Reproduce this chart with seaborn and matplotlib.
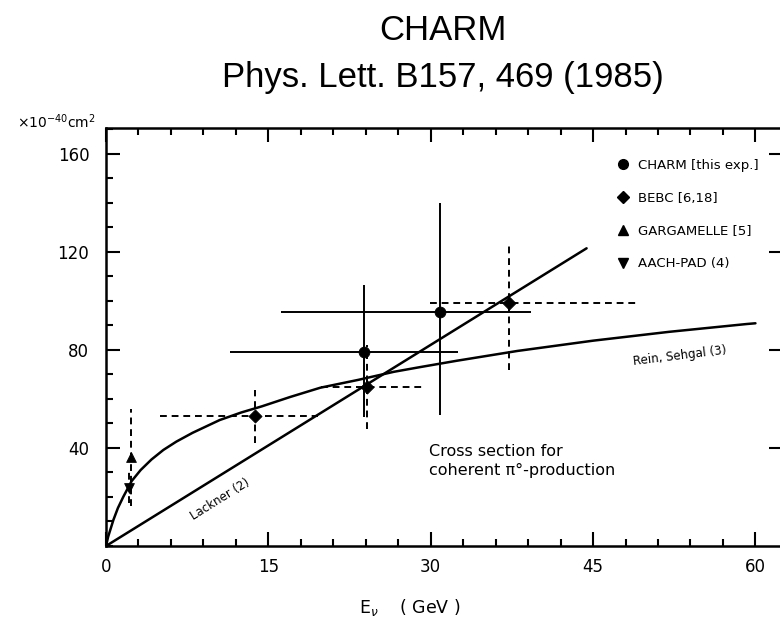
import numpy as np
import pandas as pd
import matplotlib
matplotlib.use("Agg")
import matplotlib.pyplot as plt
import seaborn as sns
from matplotlib.lines import Line2D
from matplotlib.ticker import MultipleLocator, FixedLocator

# ---------------- data ----------------
charm_E = [23.8, 30.9]
charm_sigma = [79.3, 95.6]
charm_E_lo = [11.5, 16.2]
charm_E_hi = [32.5, 39.3]
charm_sig_lo = [52.8, 53.5]
charm_sig_hi = [106.5, 140.1]

bebc_E = [13.8, 24.1, 37.2]
bebc_sigma = [53.1, 64.8, 99.1]
bebc_E_lo = [5.0, 19.9, 29.9]
bebc_E_hi = [19.6, 29.5, 49.0]
bebc_sig_lo = [41.9, 47.6, 72.0]
bebc_sig_hi = [63.7, 82.0, 124.2]

garg_E = [2.3]
garg_sigma = [36.4]
garg_sig_lo = [16.3]
garg_sig_hi = [55.8]

aach_E = [2.15]
aach_sigma = [23.5]
aach_sig_lo = [17.5]
aach_sig_hi = [30.0]

# Rein-Sehgal curve
rs_E = [0, 0.2, 0.68, 1.1, 1.6, 2.37, 3.2, 4.2, 5.3, 6.5, 8.0, 10.5, 12.5, 14.4,
        17.0, 19.8, 23.3, 26.6, 29.0, 32.4, 38.0, 45.0, 52.0, 59.2, 60.0]
rs_sigma = [0, 3.8, 10.6, 15.5, 20.1, 26.5, 31.0, 35.3, 39.2, 42.6, 46.2, 51.4, 54.5, 57.0,
            60.8, 64.6, 67.8, 71.1, 73.0, 75.6, 79.6, 83.8, 87.4, 90.6, 90.9]

# Lackner line
lk_E = [0, 44.4]
lk_sigma = [0, 121.5]

x_ticks = [0, 15, 30, 45, 60]
y_ticks = [40, 80, 120, 160]

legend_labels = ["CHARM [this exp.]", "BEBC [6,18]", "GARGAMELLE [5]", "AACH-PAD (4)"]

# ---------------- figure ----------------
sns.set_theme(style="white")
plt.rcParams["font.family"] = ["DejaVu Sans"]
plt.rcParams["mathtext.fontset"] = "dejavusans"
plt.rcParams["text.color"] = "black"
plt.rcParams["xtick.color"] = "black"
plt.rcParams["ytick.color"] = "black"
plt.rcParams["axes.labelcolor"] = "black"

W, H = 780, 625
fig = plt.figure(figsize=(W / 100, H / 100), dpi=100)
fig.patch.set_facecolor("white")
ax = fig.add_axes([106 / W, 1 - 546 / H, 676.5 / W, 418 / H])
ax.set_facecolor("white")
ax.set_xlim(0, 62.5)
ax.set_ylim(0, 170.6)

k = "black"

# theory curves
sns.lineplot(x=rs_E, y=rs_sigma, ax=ax, color=k, lw=1.8, sort=False, estimator=None)
sns.lineplot(x=lk_E, y=lk_sigma, ax=ax, color=k, lw=1.8, sort=False, estimator=None)

def ebar(E, s, Elo, Ehi, slo, shi, dashed):
    E = np.array(E); s = np.array(s)
    xerr = None
    if Elo is not None:
        xerr = [E - np.array(Elo), np.array(Ehi) - E]
    yerr = [s - np.array(slo), np.array(shi) - s]
    eb = ax.errorbar(E, s, xerr=xerr, yerr=yerr, fmt="none", ecolor=k,
                     elinewidth=1.4, capsize=0, zorder=3)
    if dashed:
        for lc in eb[2]:
            lc.set_linestyle((0, (3.5, 2.5)))

ebar(charm_E, charm_sigma, charm_E_lo, charm_E_hi, charm_sig_lo, charm_sig_hi, False)
ebar(bebc_E, bebc_sigma, bebc_E_lo, bebc_E_hi, bebc_sig_lo, bebc_sig_hi, True)
ebar(garg_E, garg_sigma, None, None, garg_sig_lo, garg_sig_hi, True)
ebar(aach_E, aach_sigma, None, None, aach_sig_lo, aach_sig_hi, True)

sns.scatterplot(x=charm_E, y=charm_sigma, ax=ax, marker="o", color=k, s=60, edgecolor=k, zorder=5)
sns.scatterplot(x=bebc_E, y=bebc_sigma, ax=ax, marker="D", color=k, s=45, edgecolor=k, zorder=5)
sns.scatterplot(x=garg_E, y=garg_sigma, ax=ax, marker="^", color=k, s=50, edgecolor=k, zorder=5)
sns.scatterplot(x=aach_E, y=aach_sigma, ax=ax, marker="v", color=k, s=50, edgecolor=k, zorder=5)

# axes styling
for side in ["left", "bottom", "top", "right"]:
    ax.spines[side].set_visible(True)
    ax.spines[side].set_color(k)
    ax.spines[side].set_linewidth(1.8)

ax.xaxis.set_major_locator(FixedLocator(x_ticks))
ax.xaxis.set_minor_locator(MultipleLocator(3))
ax.yaxis.set_major_locator(FixedLocator(y_ticks))
ax.yaxis.set_minor_locator(MultipleLocator(10))
ax.tick_params(which="both", direction="in", top=True, bottom=True, left=True,
               color=k, width=1.5)
ax.tick_params(axis="y", which="major", right=True)
ax.tick_params(axis="y", which="minor", right=False)
ax.tick_params(which="major", length=10)
ax.tick_params(which="minor", length=5)
ax.tick_params(axis="x", which="major", labelsize=12, pad=9)
ax.tick_params(axis="y", which="major", labelsize=12, pad=12)
ax.set_xticklabels([str(v) for v in x_ticks])
ax.set_yticklabels([str(v) for v in y_ticks])
ax.set_xlabel("")
ax.set_ylabel("")

# legend
handles = [
    Line2D([], [], ls="none", marker="o", color=k, markersize=7),
    Line2D([], [], ls="none", marker="D", color=k, markersize=6),
    Line2D([], [], ls="none", marker="^", color=k, markersize=7),
    Line2D([], [], ls="none", marker="v", color=k, markersize=7),
]
leg = ax.legend(handles, legend_labels, loc="upper left", bbox_to_anchor=(0.7558, 0.926),
                frameon=False, fontsize=9.5, handlelength=0.8, handletextpad=0.8,
                labelspacing=1.5, borderpad=0, borderaxespad=0)
for t in leg.get_texts():
    t.set_color(k)

# annotations
ax.text(29.8, 34.7, "Cross section for\ncoherent π°-production", fontsize=11.5,
        ha="left", va="center", linespacing=1.35, color=k)
ax.text(10.5, 19.0, "Lackner (2)", fontsize=8.5, rotation=32, ha="center", va="center", color=k)
ax.text(53.0, 77.5, "Rein, Sehgal (3)", fontsize=8.5, rotation=7, ha="center", va="center", color=k)

# units and axis label
fig.text(17 / W, 1 - 122 / H, r"×10$^{-40}$cm$^2$", fontsize=10, ha="left", va="center", color=k)
fig.text(410 / W, 1 - 607 / H, r"E$_\nu$    ( GeV )", fontsize=12.5, ha="center", va="center", color=k)

# title
fig.text(443 / W, 1 - 31 / H, "CHARM", fontsize=25, ha="center", va="center",
         family=["Liberation Sans", "DejaVu Sans"], color=k)
fig.text(443 / W, 1 - 77 / H, "Phys. Lett. B157, 469 (1985)", fontsize=25, ha="center",
         va="center", family=["Liberation Sans", "DejaVu Sans"], color=k)

fig.savefig("out.png", dpi=100, facecolor="white")
